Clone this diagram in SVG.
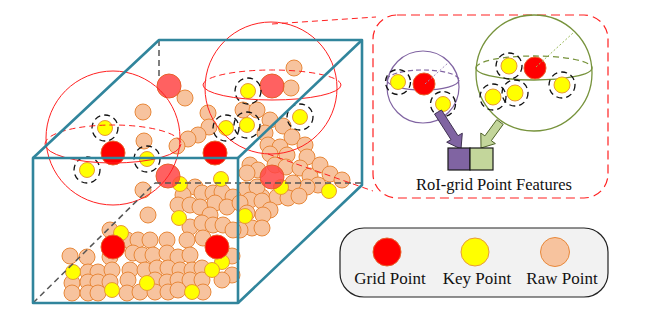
<svg xmlns="http://www.w3.org/2000/svg" width="648" height="310" viewBox="0 0 648 310">
<style>
.raw{fill:#F7C39E;stroke:#E8883A;stroke-width:1}
.key{fill:#FFFF00;stroke:#E89A3A;stroke-width:1}
.grid{fill:#FF0000;stroke:#E8602A;stroke-width:1}
.gridb{fill:#FF4545;fill-opacity:0.85;stroke:#E8602A;stroke-width:1}
.ring{fill:none;stroke:#111;stroke-width:1.3;stroke-dasharray:6 4}
.sph{fill:none;stroke:#FF2020;stroke-width:1}
.sphd{fill:none;stroke:#FF2020;stroke-width:1;stroke-dasharray:6 4}
.edge{stroke:#31859C;stroke-width:2.6;fill:none;stroke-linejoin:round}
.hid{stroke:#555;stroke-width:1.5;stroke-dasharray:6 4;fill:none}
.lbl{font-family:"Liberation Serif","Times New Roman",serif;fill:#111}
</style>

<g id="raw-points">
<circle class="raw" cx="294" cy="68" r="8"/><circle class="raw" cx="291" cy="88" r="8"/><circle class="raw" cx="185" cy="98" r="8"/>
<circle class="raw" cx="143" cy="112" r="8"/><circle class="raw" cx="144" cy="141" r="8"/><circle class="raw" cx="208" cy="113" r="8"/>
<circle class="raw" cx="209" cy="127" r="8"/><circle class="raw" cx="198" cy="135" r="8"/><circle class="raw" cx="188" cy="139" r="8"/>
<circle class="raw" cx="177" cy="146" r="8"/><circle class="raw" cx="243" cy="110" r="8"/><circle class="raw" cx="257" cy="110" r="8"/>
<circle class="raw" cx="270" cy="120" r="8"/><circle class="raw" cx="283" cy="126" r="8"/><circle class="raw" cx="265" cy="133" r="8"/>
<circle class="raw" cx="292" cy="137" r="8"/><circle class="raw" cx="268" cy="145" r="8"/><circle class="raw" cx="280" cy="147" r="8"/>
<circle class="raw" cx="305" cy="145" r="8"/><circle class="raw" cx="307" cy="157" r="8"/><circle class="raw" cx="270" cy="154" r="8"/>
<circle class="raw" cx="287" cy="155" r="8"/><circle class="raw" cx="250" cy="165" r="8"/><circle class="raw" cx="258" cy="170" r="8"/>
<circle class="raw" cx="247" cy="173" r="8"/><circle class="raw" cx="275" cy="165" r="8"/><circle class="raw" cx="286" cy="167" r="8"/>
<circle class="raw" cx="300" cy="168" r="8"/><circle class="raw" cx="310" cy="176" r="8"/><circle class="raw" cx="320" cy="165" r="8"/>
<circle class="raw" cx="330" cy="174" r="8"/><circle class="raw" cx="342" cy="180" r="8"/><circle class="raw" cx="318" cy="185" r="8"/>
<circle class="raw" cx="307" cy="187" r="8"/><circle class="raw" cx="293" cy="183" r="8"/><circle class="raw" cx="262" cy="197" r="8"/>
<circle class="raw" cx="277" cy="197" r="8"/><circle class="raw" cx="288" cy="198" r="8"/><circle class="raw" cx="299" cy="196" r="8"/>
<circle class="raw" cx="245" cy="190" r="8"/><circle class="raw" cx="257" cy="187" r="8"/><circle class="raw" cx="250" cy="200" r="8"/>
<circle class="raw" cx="262" cy="201" r="8"/><circle class="raw" cx="270" cy="210" r="8"/><circle class="raw" cx="263" cy="215" r="8"/>
<circle class="raw" cx="252" cy="228" r="8"/><circle class="raw" cx="262" cy="228" r="8"/><circle class="raw" cx="240" cy="230" r="8"/>
<circle class="raw" cx="195" cy="187" r="8"/><circle class="raw" cx="183" cy="195" r="8"/><circle class="raw" cx="202" cy="193" r="8"/>
<circle class="raw" cx="213" cy="193" r="8"/><circle class="raw" cx="222" cy="192" r="8"/><circle class="raw" cx="233" cy="197" r="8"/>
<circle class="raw" cx="178" cy="205" r="8"/><circle class="raw" cx="190" cy="205" r="8"/><circle class="raw" cx="200" cy="207" r="8"/>
<circle class="raw" cx="215" cy="203" r="8"/><circle class="raw" cx="227" cy="207" r="8"/><circle class="raw" cx="240" cy="203" r="8"/>
<circle class="raw" cx="247" cy="213" r="8"/><circle class="raw" cx="148" cy="215" r="8"/><circle class="raw" cx="143" cy="190" r="8"/>
<circle class="raw" cx="210" cy="215" r="8"/><circle class="raw" cx="190" cy="227" r="8"/><circle class="raw" cx="202" cy="223" r="8"/>
<circle class="raw" cx="213" cy="225" r="8"/><circle class="raw" cx="223" cy="225" r="8"/><circle class="raw" cx="233" cy="230" r="8"/>
<circle class="raw" cx="110" cy="230" r="8"/><circle class="raw" cx="127" cy="240" r="8"/><circle class="raw" cx="138" cy="240" r="8"/>
<circle class="raw" cx="150" cy="240" r="8"/><circle class="raw" cx="167" cy="240" r="8"/><circle class="raw" cx="187" cy="240" r="8"/>
<circle class="raw" cx="203" cy="238" r="8"/>
<circle class="raw" cx="70" cy="256" r="8"/><circle class="raw" cx="87" cy="257" r="8"/><circle class="raw" cx="110" cy="257" r="8"/>
<circle class="raw" cx="133" cy="253" r="8"/><circle class="raw" cx="142" cy="255" r="8"/><circle class="raw" cx="153" cy="255" r="8"/>
<circle class="raw" cx="167" cy="253" r="8"/><circle class="raw" cx="178" cy="257" r="8"/><circle class="raw" cx="190" cy="255" r="8"/>
<circle class="raw" cx="232" cy="256" r="8"/>
<circle class="raw" cx="88" cy="272" r="8"/><circle class="raw" cx="98" cy="272" r="8"/><circle class="raw" cx="112" cy="270" r="8"/>
<circle class="raw" cx="130" cy="270" r="8"/><circle class="raw" cx="145" cy="270" r="8"/><circle class="raw" cx="157" cy="268" r="8"/>
<circle class="raw" cx="168" cy="268" r="8"/><circle class="raw" cx="180" cy="270" r="8"/><circle class="raw" cx="192" cy="270" r="8"/>
<circle class="raw" cx="202" cy="268" r="8"/><circle class="raw" cx="232" cy="275" r="8"/>
<circle class="raw" cx="72" cy="283" r="8"/><circle class="raw" cx="88" cy="282" r="8"/><circle class="raw" cx="98" cy="282" r="8"/>
<circle class="raw" cx="110" cy="282" r="8"/><circle class="raw" cx="128" cy="280" r="8"/><circle class="raw" cx="155" cy="280" r="8"/>
<circle class="raw" cx="167" cy="282" r="8"/><circle class="raw" cx="178" cy="280" r="8"/><circle class="raw" cx="190" cy="280" r="8"/>
<circle class="raw" cx="202" cy="280" r="8"/><circle class="raw" cx="222" cy="280" r="8"/>
<circle class="raw" cx="72" cy="293" r="8"/><circle class="raw" cx="88" cy="293" r="8"/><circle class="raw" cx="98" cy="293" r="8"/>
<circle class="raw" cx="127" cy="293" r="8"/><circle class="raw" cx="140" cy="292" r="8"/><circle class="raw" cx="155" cy="292" r="8"/>
<circle class="raw" cx="168" cy="292" r="8"/><circle class="raw" cx="178" cy="290" r="8"/><circle class="raw" cx="203" cy="292" r="8"/>
</g>

<g id="key-points">
<circle class="key" cx="105" cy="128" r="7.5"/><circle class="key" cx="87" cy="170" r="7.5"/><circle class="key" cx="147" cy="159" r="7.5"/>
<circle class="key" cx="248" cy="91" r="7.5"/><circle class="key" cx="226" cy="128" r="7.5"/><circle class="key" cx="247" cy="125" r="7.5"/>
<circle class="key" cx="300" cy="117" r="7.5"/>
<circle class="key" cx="180" cy="184" r="7.5"/><circle class="key" cx="221" cy="179" r="7.5"/><circle class="key" cx="281" cy="187" r="7.5"/>
<circle class="key" cx="329" cy="191" r="7.5"/><circle class="key" cx="179" cy="218" r="7.5"/><circle class="key" cx="245" cy="216" r="7.5"/>
<circle class="key" cx="121" cy="233" r="7.5"/><circle class="key" cx="222" cy="262" r="7.5"/><circle class="key" cx="212" cy="270" r="7.5"/>
<circle class="key" cx="73" cy="272" r="7.5"/><circle class="key" cx="147" cy="283" r="7.5"/><circle class="key" cx="112" cy="290" r="7.5"/>
<circle class="key" cx="192" cy="292" r="7.5"/>
</g>

<g id="grid-points">
<circle class="gridb" cx="169" cy="86" r="12"/><circle class="gridb" cx="272" cy="86" r="12"/>
<circle class="gridb" cx="168" cy="176" r="12"/><circle class="gridb" cx="272" cy="177" r="12"/>
<circle class="grid" cx="113" cy="153" r="12"/><circle class="grid" cx="215" cy="153" r="12"/>
<circle class="grid" cx="113" cy="247" r="12"/><circle class="grid" cx="217" cy="247" r="12"/>
</g>

<g id="key-rings">
<circle class="ring" cx="105" cy="128" r="13"/><circle class="ring" cx="87" cy="170" r="13"/><circle class="ring" cx="147" cy="159" r="13"/>
<circle class="ring" cx="248" cy="91" r="13"/><circle class="ring" cx="226" cy="128" r="13"/><circle class="ring" cx="247" cy="125" r="13"/>
<circle class="ring" cx="300" cy="117" r="13"/>
</g>

<g id="roi-spheres">
<circle class="sph" cx="113" cy="138" r="67"/>
<path class="sphd" d="M45,144 A68,19 0 0 1 181,144"/>
<path class="sph" d="M45,144 A68,19 0 0 0 181,144"/>
<circle class="sph" cx="271" cy="88" r="66"/>
<path class="sphd" d="M203,85 A69,15 0 0 1 341,85"/>
<path class="sph" d="M203,85 A69,15 0 0 0 341,85"/>
</g>

<g id="cube">
<polyline class="hid" points="159,40 159,78"/>
<line class="hid" x1="155" y1="183" x2="362" y2="183"/>
<line class="hid" x1="33" y1="303" x2="155" y2="183"/>
<polyline class="edge" points="33,158 159,40 362,40 362,185 238,303"/>
<rect class="edge" x="33" y="158" width="205" height="145"/>
<line class="edge" x1="238" y1="158" x2="362" y2="40"/>
</g>

<g id="connectors">
<line class="sphd" x1="272" y1="24" x2="376" y2="17"/>
<line class="sphd" x1="268" y1="154" x2="373" y2="191"/>
</g>

<g id="callout">
<rect x="373" y="15" width="235" height="183" rx="24" fill="#fff" stroke="#FF2020" stroke-width="1.2" stroke-dasharray="9 5"/>
<g id="purple-sphere">
<circle cx="423" cy="87" r="36" fill="none" stroke="#8064A2" stroke-width="1.2"/>
<path d="M387,80 A36,10 0 0 1 459,80" fill="none" stroke="#8064A2" stroke-width="1.2" stroke-dasharray="5 3"/>
<path d="M387,80 A36,10 0 0 0 459,80" fill="none" stroke="#8064A2" stroke-width="1.2"/>
<circle class="grid" cx="424" cy="84" r="11"/>
<line x1="425" y1="84" x2="448" y2="63" stroke="#A08CC0" stroke-width="1" stroke-dasharray="2 2"/>
<circle class="key" cx="398" cy="82" r="7.5"/><circle class="ring" cx="398" cy="82" r="12.5"/>
<circle class="key" cx="443" cy="104" r="7.5"/><circle class="ring" cx="443" cy="104" r="12.5"/>
</g>
<g id="green-sphere">
<circle cx="534" cy="73" r="58" fill="none" stroke="#77933C" stroke-width="1.3"/>
<path d="M476,68 A58,12 0 0 1 592,68" fill="none" stroke="#77933C" stroke-width="1.3" stroke-dasharray="6 4"/>
<path d="M476,68 A58,12 0 0 0 592,68" fill="none" stroke="#77933C" stroke-width="1.3"/>
<circle class="grid" cx="535" cy="68" r="11"/>
<line x1="536" y1="67" x2="573" y2="33" stroke="#9BBB59" stroke-width="1" stroke-dasharray="2 2"/>
<circle class="key" cx="509" cy="66" r="8"/><circle class="ring" cx="509" cy="66" r="13"/>
<circle class="key" cx="493" cy="97" r="8"/><circle class="ring" cx="493" cy="97" r="13"/>
<circle class="key" cx="515" cy="93" r="8"/><circle class="ring" cx="515" cy="93" r="13"/>
<circle class="key" cx="562" cy="85" r="8"/><circle class="ring" cx="562" cy="85" r="13"/>
</g>
<polygon id="purple-arrow" points="434.5,114 451,139.7 446.7,142.2 461,149 462.3,133.2 458,135.7 441.5,110" fill="#8064A2" stroke="#3F3151" stroke-width="1"/>
<polygon id="green-arrow" points="496.8,119.6 484.9,135.9 480.8,133 481,148 495.4,143.6 491.3,140.7 503.2,124.4" fill="#C3D69B" stroke="#4F6228" stroke-width="1"/>
<g id="feature-boxes">
<rect x="448" y="148" width="22" height="22" fill="#8064A2" stroke="#1a1a1a" stroke-width="1.2"/>
<rect x="470" y="148" width="23" height="22" fill="#C3D69B" stroke="#1a1a1a" stroke-width="1.2"/>
</g>
<text class="lbl" x="494" y="190" font-size="16.5" text-anchor="middle">RoI-grid Point Features</text>
</g>

<g id="legend">
<rect x="340" y="228" width="268" height="69" rx="24" fill="#F2F2F2" stroke="#222" stroke-width="1.2"/>
<circle class="grid" cx="387" cy="252" r="14"/>
<circle class="key" cx="475" cy="252" r="14"/>
<circle class="raw" cx="555" cy="252" r="14.5"/>
<text class="lbl" x="390" y="284" font-size="17" text-anchor="middle">Grid Point</text>
<text class="lbl" x="477" y="284" font-size="17" text-anchor="middle">Key Point</text>
<text class="lbl" x="562" y="284" font-size="17" text-anchor="middle">Raw Point</text>
</g>
</svg>
